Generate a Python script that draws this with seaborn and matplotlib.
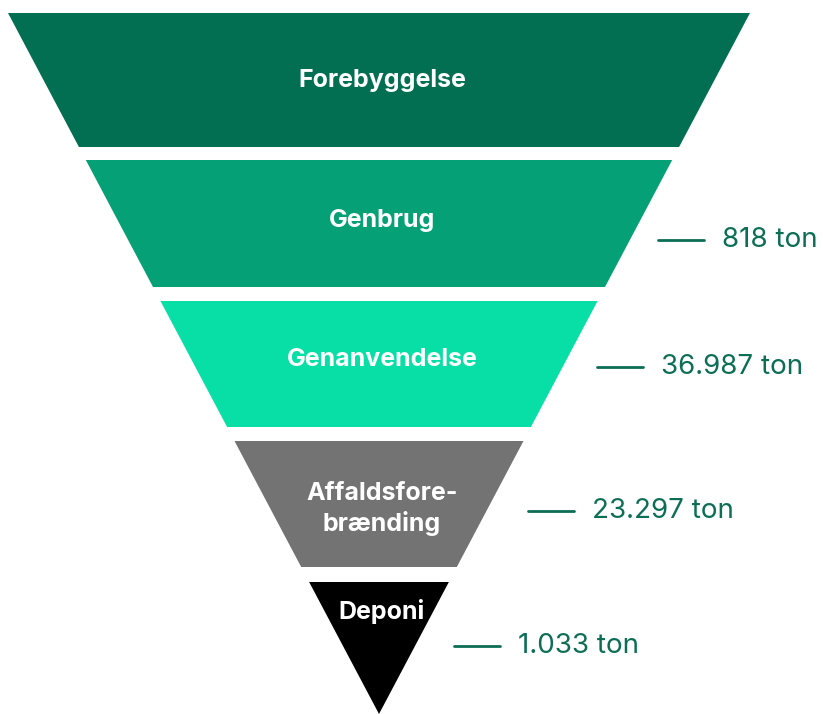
import numpy as np
import pandas as pd
import seaborn as sns
import matplotlib.pyplot as plt
from matplotlib.patches import Polygon

# data
levels = ["Forebyggelse", "Genbrug", "Genanvendelse", "Affaldsfore-\nbrænding", "Deponi"]
tonnage = [None, "818 ton", "36.987 ton", "23.297 ton", "1.033 ton"]
colors = ["#036F52", "#05A075", "#08DFA6", "#737373", "#000000"]

# layout (pixel space)
W, H = 823, 714
cx, top, apex, half_top = 379, 13, 714, 371
band_top = [13, 160, 301, 441, 582]
band_bot = [147, 287, 427, 567, 714]
label_y = [80, 221, 359, 509, 611]
note_y = [None, 240, 367, 511, 646]
note_x = [None, 658, 597, 528, 454]
note_col = "#0B6E55"

sns.set_theme(style="white")
plt.rcParams["font.family"] = ["Inter", "DejaVu Sans"]

fig = plt.figure(figsize=(W / 100, H / 100), dpi=100)
ax = fig.add_axes([0, 0, 1, 1])
ax.set_xlim(0, W)
ax.set_ylim(H, 0)
ax.axis("off")

slope = half_top / (apex - top)


def half_w(y):
    return max(half_top - (y - top) * slope, 0)


for i, (name, col) in enumerate(zip(levels, colors)):
    y0, y1 = band_top[i], band_bot[i]
    pts = [(cx - half_w(y0), y0), (cx + half_w(y0), y0),
           (cx + half_w(y1), y1), (cx - half_w(y1), y1)]
    ax.add_patch(Polygon(pts, closed=True, color=col, lw=0))
    ax.text(cx + 3, label_y[i], name, color="white", fontsize=18, fontweight="bold",
            ha="center", va="center", linespacing=1.35)

    if tonnage[i] is not None:
        df = pd.DataFrame({"x": [note_x[i], note_x[i] + 46], "y": [note_y[i]] * 2})
        sns.lineplot(data=df, x="x", y="y", ax=ax, color=note_col, lw=2)
        ax.text(note_x[i] + 64, note_y[i], tonnage[i], color=note_col, fontsize=20,
                ha="left", va="center")

ax.set_xlabel("")
ax.set_ylabel("")
fig.savefig("out.png", dpi=100)
